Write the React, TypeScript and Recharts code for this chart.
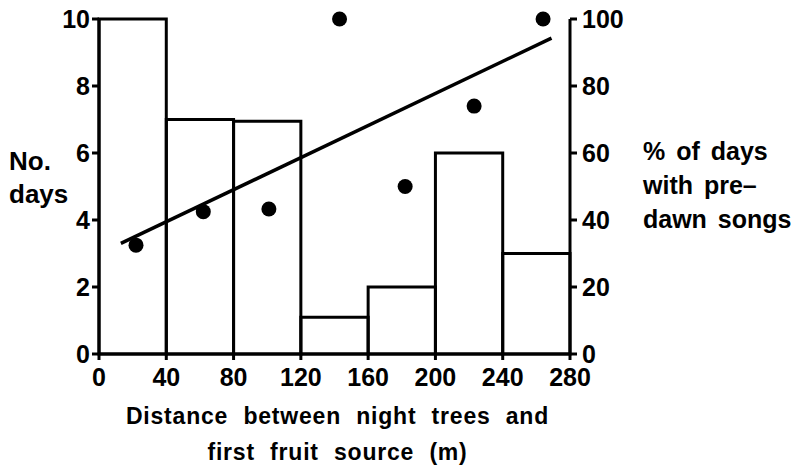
import React from "react";
import {
  ComposedChart,
  XAxis,
  YAxis,
  Scatter,
  Line,
  ReferenceArea,
} from "recharts";

// histogram: number of days per distance class (40 m bins)
const binStart = [0, 40, 80, 120, 160, 200, 240];
const binWidth = 40;
const days = [10, 7, 6.95, 1.1, 2, 6, 3];

// % of days with pre-dawn songs
const songDist = [22, 62, 101, 143, 182, 223, 264];
const songPct = [32.5, 42.5, 43.3, 100, 50, 74, 100];

// regression line end points
const trendDist = [13, 269];
const trendPct = [33, 94.3];

const xTicks = [0, 40, 80, 120, 160, 200, 240, 280];
const leftTicks = [0, 2, 4, 6, 8, 10];
const rightTicks = [0, 20, 40, 60, 80, 100];

const font = "'Liberation Sans', Arial, Helvetica, sans-serif";
const tickStyle = { fill: "#000", fontSize: 25, fontWeight: 700, fontFamily: font };
const axisLine = { stroke: "#000", strokeWidth: 3 };
const tickLine = { stroke: "#000", strokeWidth: 3 };

const bins = binStart.map((s, i) => ({ d: s + binWidth / 2, days: days[i] }));
const songs = songDist.map((d, i) => ({ d, pct: songPct[i] }));
const trend = trendDist.map((d, i) => ({ d, pct: trendPct[i] }));

const labelStyle: React.CSSProperties = {
  position: "absolute",
  fontFamily: font,
  fontWeight: 700,
  color: "#000",
  whiteSpace: "nowrap",
  lineHeight: 1,
};

export default function App() {
  return (
    <div style={{ position: "absolute", left: 0, top: 0, width: 797, height: 466, background: "#fff" }}>
      <ComposedChart
        width={797}
        height={466}
        margin={{ top: 19, right: 167, bottom: 72, left: 39 }}
      >
        <XAxis
          type="number"
          dataKey="d"
          domain={[0, 280]}
          ticks={xTicks}
          interval={0}
          tick={tickStyle}
          axisLine={axisLine}
          tickLine={tickLine}
          tickSize={6}
          tickMargin={8}
          height={40}
        />
        <YAxis
          yAxisId="left"
          type="number"
          domain={[0, 10]}
          ticks={leftTicks}
          interval={0}
          tick={tickStyle}
          axisLine={axisLine}
          tickLine={tickLine}
          tickSize={7}
          tickMargin={2}
          width={60}
        />
        <YAxis
          yAxisId="right"
          type="number"
          orientation="right"
          domain={[0, 100]}
          ticks={rightTicks}
          interval={0}
          tick={tickStyle}
          axisLine={axisLine}
          tickLine={tickLine}
          tickSize={7}
          tickMargin={5}
          width={60}
        />
        {/* invisible series so the left axis gets its scale */}
        <Line
          yAxisId="left"
          data={bins}
          dataKey="days"
          stroke="none"
          dot={false}
          activeDot={false}
          isAnimationActive={false}
        />
        {binStart.map((s, i) => (
          <ReferenceArea
            key={s}
            yAxisId="left"
            x1={s}
            x2={s + binWidth}
            y1={0}
            y2={days[i]}
            fill="none"
            fillOpacity={0}
            stroke="#000"
            strokeWidth={3}
          />
        ))}
        <Line
          yAxisId="right"
          data={trend}
          dataKey="pct"
          type="linear"
          stroke="#000"
          strokeWidth={3.5}
          dot={false}
          isAnimationActive={false}
        />
        <Scatter
          yAxisId="right"
          data={songs}
          dataKey="pct"
          fill="#000"
          shape={(p: any) => <circle cx={p.cx} cy={p.cy} r={7.5} fill="#000" />}
          isAnimationActive={false}
        />
      </ComposedChart>

      <div style={{ ...labelStyle, left: 9, top: 148, fontSize: 26 }}>No.</div>
      <div style={{ ...labelStyle, left: 9, top: 181, fontSize: 26 }}>days</div>

      <div style={{ ...labelStyle, left: 643, top: 139, fontSize: 25, wordSpacing: 4 }}>% of days</div>
      <div style={{ ...labelStyle, left: 643, top: 173, fontSize: 25, wordSpacing: 4 }}>with pre–</div>
      <div style={{ ...labelStyle, left: 643, top: 207, fontSize: 25, wordSpacing: 4 }}>dawn songs</div>

      <div style={{ ...labelStyle, left: 0, width: 675, textAlign: "center", top: 405, fontSize: 23, wordSpacing: 8, letterSpacing: 0.8 }}>
        Distance between night trees and
      </div>
      <div style={{ ...labelStyle, left: 0, width: 675, textAlign: "center", top: 441, fontSize: 23, wordSpacing: 8, letterSpacing: 0.8 }}>
        first fruit source (m)
      </div>
    </div>
  );
}
